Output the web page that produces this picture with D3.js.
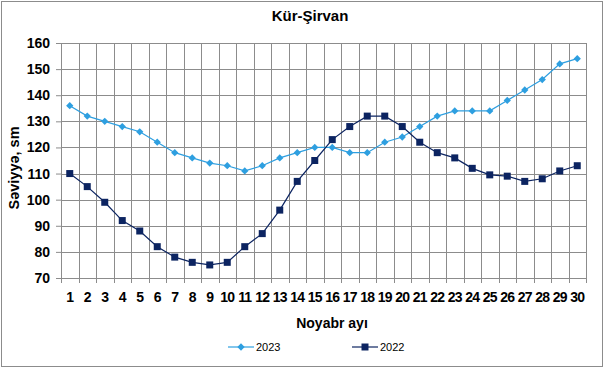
<!DOCTYPE html>
<html>
<head>
<meta charset="utf-8">
<script src="https://cdnjs.cloudflare.com/ajax/libs/d3/7.8.5/d3.min.js"></script>
<style>
  body { margin: 0; background: #fff; }
  .chart text { font-family: "Liberation Sans", Arial, sans-serif; fill: #000; }
</style>
</head>
<body>
<div class="chart"></div>
<script>
var days = d3.range(1, 31);
var s2023 = [136, 132, 130, 128, 126, 122, 118, 116, 114, 113, 111, 113, 116, 118, 120,
             120, 118, 118, 122, 124, 128, 132, 134, 134, 134, 138, 142, 146, 152, 154];
var s2022 = [110, 105, 99, 92, 88, 82, 78, 76, 75, 76, 82, 87, 96, 107, 115,
             123, 128, 132, 132, 128, 122, 118, 116, 112, 109.5, 109, 107, 108, 111, 113];
var yTicks = [70, 80, 90, 100, 110, 120, 130, 140, 150, 160];

var W = 607, H = 371;
var margin = { top: 43, left: 61, right: 21, bottom: 93 };
var w = W - margin.left - margin.right,
    h = H - margin.top - margin.bottom;

var svg = d3.select(".chart").append("svg")
  .attr("width", W).attr("height", H);

// outer chart border
svg.append("rect")
  .attr("x", 1.5).attr("y", 1.5)
  .attr("width", 601).attr("height", 365)
  .attr("fill", "#fff").attr("stroke", "#8c8c8c");

var g = svg.append("g")
  .attr("transform", "translate(" + margin.left + "," + margin.top + ")");

var x = d3.scaleBand().domain(days).range([0, w]);
var y = d3.scaleLinear().domain([70, 160]).range([h, 0]);

// horizontal grid
g.selectAll(".hgrid").data(yTicks).enter().append("line")
  .attr("x1", 0).attr("x2", w)
  .attr("y1", function(d) { return Math.round(y(d)) + 0.5; })
  .attr("y2", function(d) { return Math.round(y(d)) + 0.5; })
  .attr("stroke", "#8c8c8c");

// vertical grid at category boundaries
g.selectAll(".vgrid").data(days).enter().append("line")
  .attr("x1", function(d) { return Math.round(x(d) + x.bandwidth()) + 0.5; })
  .attr("x2", function(d) { return Math.round(x(d) + x.bandwidth()) + 0.5; })
  .attr("y1", 0).attr("y2", h)
  .attr("stroke", "#8c8c8c");

// y axis
var yAxis = g.append("g")
  .call(d3.axisLeft(y).tickValues(yTicks).tickSize(5).tickPadding(6));
yAxis.select(".domain").attr("stroke", "#8c8c8c").attr("d", "M0.5," + h + "V0");
yAxis.selectAll(".tick line").attr("stroke", "#8c8c8c");
yAxis.selectAll("text")
  .attr("font-size", "14px").attr("font-weight", "bold")
  .attr("font-family", "'Liberation Sans', Arial, sans-serif");

// x axis
var xAxis = g.append("g")
  .attr("transform", "translate(0," + h + ")")
  .call(d3.axisBottom(x).tickSize(0).tickPadding(14));
xAxis.select(".domain").attr("stroke", "#8c8c8c").attr("d", "M0," + 0.5 + "H" + w);
xAxis.selectAll("text")
  .attr("font-size", "14px").attr("font-weight", "bold")
  .attr("letter-spacing", "-0.8px")
  .attr("font-family", "'Liberation Sans', Arial, sans-serif");
g.selectAll(".xtick").data([0].concat(days)).enter().append("line")
  .attr("x1", function(d) { return d === 0 ? 0.5 : Math.round(x(d) + x.bandwidth()) + 0.5; })
  .attr("x2", function(d) { return d === 0 ? 0.5 : Math.round(x(d) + x.bandwidth()) + 0.5; })
  .attr("y1", h).attr("y2", h + 5)
  .attr("stroke", "#8c8c8c");

var line = d3.line()
  .x(function(d, i) { return x(days[i]) + x.bandwidth() / 2; })
  .y(function(d) { return y(d); });

// 2023 series
g.append("path").datum(s2023)
  .attr("d", line).attr("fill", "none")
  .attr("stroke", "#2e9fe0").attr("stroke-width", 1.2);
g.selectAll(".m2023").data(s2023).enter().append("path")
  .attr("d", d3.symbol().type(d3.symbolDiamond2).size(34))
  .attr("transform", function(d, i) {
    return "translate(" + (x(days[i]) + x.bandwidth() / 2) + "," + y(d) + ")";
  })
  .attr("fill", "#2e9fe0");

// 2022 series
g.append("path").datum(s2022)
  .attr("d", line).attr("fill", "none")
  .attr("stroke", "#0c2461").attr("stroke-width", 1.2);
g.selectAll(".m2022").data(s2022).enter().append("rect")
  .attr("x", function(d, i) { return x(days[i]) + x.bandwidth() / 2 - 3.5; })
  .attr("y", function(d) { return y(d) - 3.5; })
  .attr("width", 7).attr("height", 7)
  .attr("fill", "#0c2461");

// titles
svg.append("text")
  .attr("x", 310).attr("y", 21)
  .attr("text-anchor", "middle")
  .attr("font-size", "15px").attr("font-weight", "bold")
  .text("Kür-Şirvan");

svg.append("text")
  .attr("transform", "translate(19,168) rotate(-90)")
  .attr("text-anchor", "middle")
  .attr("font-size", "14.5px").attr("font-weight", "bold")
  .text("Səviyyə, sm");

svg.append("text")
  .attr("x", 332).attr("y", 328)
  .attr("text-anchor", "middle")
  .attr("font-size", "14px").attr("font-weight", "bold")
  .text("Noyabr ayı");

// legend
var legend = [
  { name: "2023", color: "#2e9fe0", x: 228, shape: "diamond" },
  { name: "2022", color: "#0c2461", x: 352, shape: "square" }
];
var lg = svg.selectAll(".legend").data(legend).enter().append("g")
  .attr("transform", function(d) { return "translate(" + d.x + ",347)"; });
lg.append("line")
  .attr("x1", 0).attr("x2", 26).attr("y1", 0).attr("y2", 0)
  .attr("stroke", function(d) { return d.color; }).attr("stroke-width", 1.2);
lg.append("path")
  .attr("d", function(d) {
    return d.shape === "diamond"
      ? d3.symbol().type(d3.symbolDiamond2).size(34)()
      : "M-3.5,-3.5h7v7h-7Z";
  })
  .attr("transform", "translate(13,0)")
  .attr("fill", function(d) { return d.color; });
lg.append("text")
  .attr("x", 28).attr("y", 4)
  .attr("font-size", "11px")
  .text(function(d) { return d.name; });
</script>
</body>
</html>
